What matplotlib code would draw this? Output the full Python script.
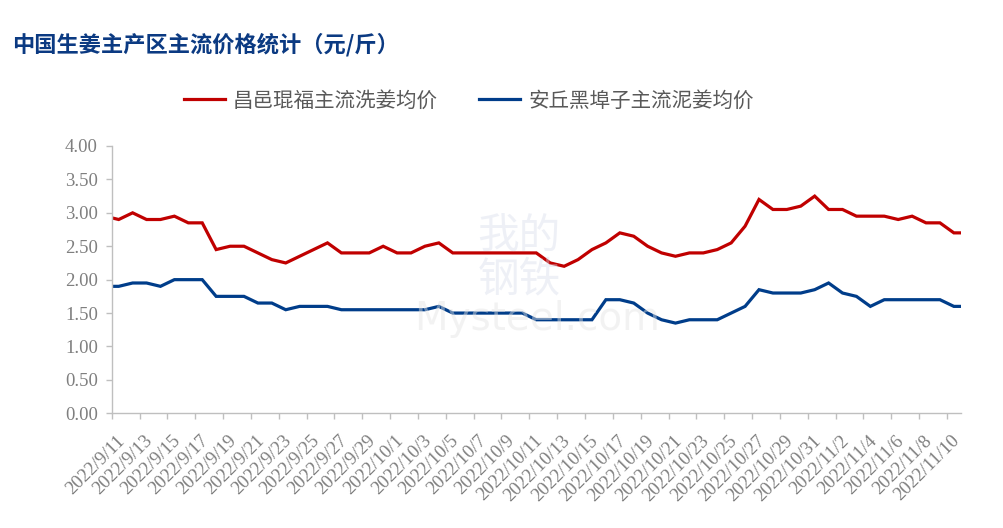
import matplotlib.pyplot as plt
import matplotlib.transforms as mtransforms
import numpy as np
import pandas as pd

# daily prices, 2022/9/10 .. 2022/11/11 (first and last day fall just outside the axis)
dates = pd.date_range('2022-09-10', '2022-11-11', freq='D')

changyi = [2.95,
           2.90, 3.00, 2.90, 2.90, 2.95, 2.85, 2.85, 2.45, 2.50, 2.50,
           2.40, 2.30, 2.25, 2.35, 2.45, 2.55, 2.40, 2.40, 2.40, 2.50,
           2.40, 2.40, 2.50, 2.55, 2.40, 2.40, 2.40, 2.40, 2.40, 2.40,
           2.40, 2.25, 2.20, 2.30, 2.45, 2.55, 2.70, 2.65, 2.50, 2.40,
           2.35, 2.40, 2.40, 2.45, 2.55, 2.80, 3.20, 3.05, 3.05, 3.10,
           3.25, 3.05, 3.05, 2.95, 2.95, 2.95, 2.90, 2.95, 2.85, 2.85,
           2.70,
           2.70]

anqiu = [1.90,
         1.90, 1.95, 1.95, 1.90, 2.00, 2.00, 2.00, 1.75, 1.75, 1.75,
         1.65, 1.65, 1.55, 1.60, 1.60, 1.60, 1.55, 1.55, 1.55, 1.55,
         1.55, 1.55, 1.55, 1.60, 1.50, 1.50, 1.50, 1.50, 1.50, 1.50,
         1.40, 1.40, 1.40, 1.40, 1.40, 1.70, 1.70, 1.65, 1.50, 1.40,
         1.35, 1.40, 1.40, 1.40, 1.50, 1.60, 1.85, 1.80, 1.80, 1.80,
         1.85, 1.95, 1.80, 1.75, 1.60, 1.70, 1.70, 1.70, 1.70, 1.70,
         1.60,
         1.60]

series_names = ['昌邑琨福主流洗姜均价', '安丘黑埠子主流泥姜均价']
title = '中国生姜主产区主流价格统计（元/斤）'

plt.rcParams['font.family'] = ['Noto Sans CJK SC', 'DejaVu Sans']

fig = plt.figure(figsize=(10.04, 5.28), dpi=100)
ax = fig.add_axes([0.1113, 0.2172, 0.8457, 0.5063])

# points sit in the middle of each day band, ticks on band edges
x = np.arange(len(dates)) - 0.5
ax.plot(x, changyi, color='#c00000', lw=2.3, solid_joinstyle='miter', label=series_names[0])
ax.plot(x, anqiu, color='#003d8a', lw=2.3, solid_joinstyle='miter', label=series_names[1])

ax.set_xlim(0, 61)
ax.set_ylim(0, 4)
ax.set_yticks(np.arange(0, 4.01, 0.5))
ax.set_yticklabels([f'{v:.2f}' for v in np.arange(0, 4.01, 0.5)],
                   family='Liberation Serif', fontsize=13.5, color='#7f7f7f')

for s in ['top', 'right']:
    ax.spines[s].set_visible(False)
for s in ['left', 'bottom']:
    ax.spines[s].set_color('#bfbfbf')
    ax.spines[s].set_linewidth(1.0)
ax.tick_params(axis='both', direction='out', length=4, width=1.0, color='#bfbfbf')
ax.tick_params(axis='x', pad=14)
ax.tick_params(axis='y', pad=6)

tick_pos = np.arange(0, 61, 2)
tick_lab = [f'{d.year}/{d.month}/{d.day}' for d in dates[1::2]]
ax.set_xticks(tick_pos)
ax.set_xticklabels(tick_lab, rotation=45, ha='right', va='center',
                   rotation_mode='anchor', family='Liberation Serif',
                   fontsize=13.5, color='#7f7f7f')
# nudge the slanted labels to the right (after tick_params, which resets transforms)
offset = mtransforms.ScaledTranslation(7.5 / 72, 0, fig.dpi_scale_trans)
for lab in ax.get_xticklabels():
    lab.set_transform(lab.get_transform() + offset)

# faint watermark
fig.text(0.517, 0.51, '我的\n钢铁', fontsize=30, color='#d5dbea', alpha=0.4,
         ha='center', va='center', linespacing=1.05)
fig.text(0.535, 0.395, 'Mysteel.com', fontsize=28, color='#e4e4e4', alpha=0.45,
         family='DejaVu Sans', ha='center', va='center')

fig.text(0.012, 0.915, title, fontsize=16, fontweight='bold', color='#0b3a82',
         ha='left', va='center')

fig.legend(loc='center', bbox_to_anchor=(0.467, 0.81), ncol=2, frameon=False,
           fontsize=14.8, handlelength=2.0, columnspacing=2.0, handletextpad=0.4,
           labelcolor='#595959')

fig.savefig('out.png', dpi=100)
